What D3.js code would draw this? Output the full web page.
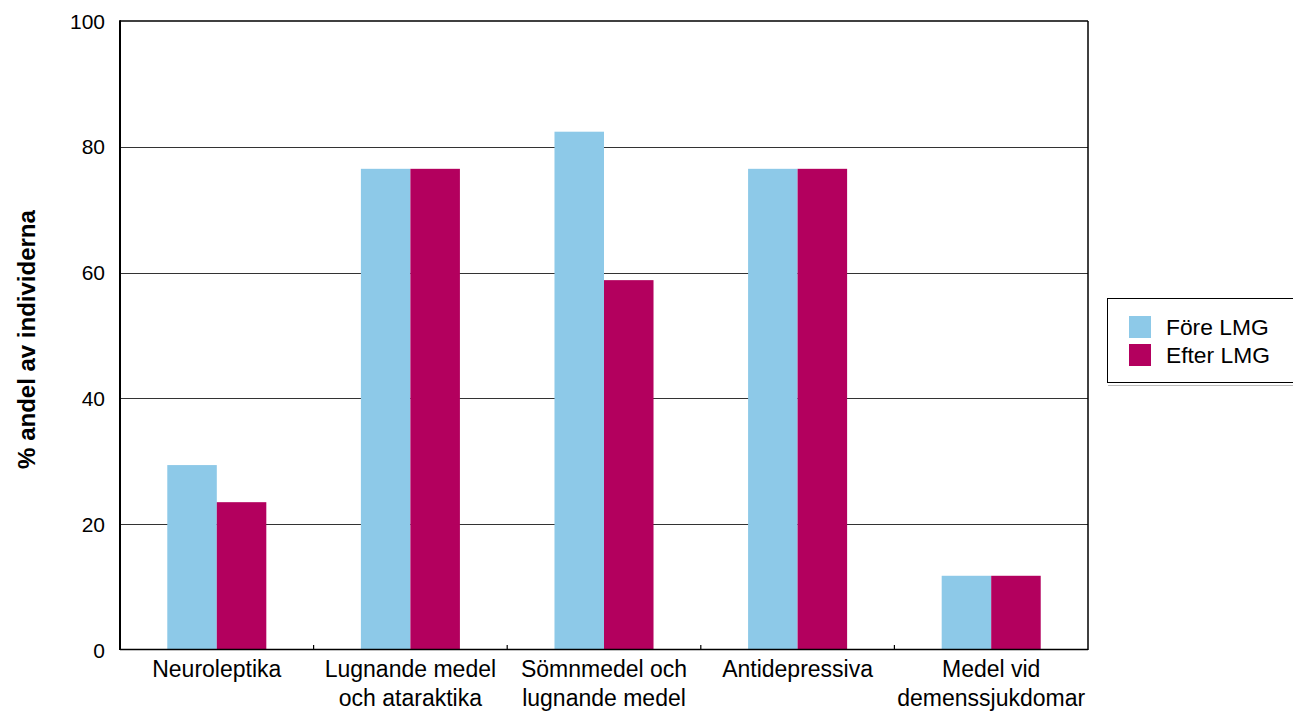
<!DOCTYPE html>
<html><head><meta charset="utf-8">
<script src="https://cdn.jsdelivr.net/npm/d3@7"></script>
<style>body{margin:0;background:#fff}svg{display:block}text{font-family:Arial,"Liberation Sans",sans-serif;fill:#000}</style>
</head><body><svg id="c" width="1293" height="712"></svg>
<script>
const categories = [["Neuroleptika"],["Lugnande medel","och ataraktika"],["Sömnmedel och","lugnande medel"],["Antidepressiva"],["Medel vid","demenssjukdomar"]];
const seriesNames = ["Före LMG","Efter LMG"];
const foreValues = [29.4, 76.5, 82.4, 76.5, 11.8];
const efterValues = [23.5, 76.5, 58.8, 76.5, 11.8];
const yTicks = [0,20,40,60,80,100];
const colors = ["#8dc9e8","#b3005e"];
const yTitle = "% andel av individerna";

const svg = d3.select("#c");
const L=120,R=1088,T=21,B=650;
const x = d3.scaleBand().domain(d3.range(categories.length)).range([L,R]).padding(0);
const xi = d3.scaleBand().domain([0,1]).range([0,x.bandwidth()]).paddingInner(0).paddingOuter(0.955);
const y = d3.scaleLinear().domain([0,100]).range([B,T]);

// gridlines
svg.append("g").selectAll("line").data(yTicks.filter(d=>d>0&&d<100)).join("line")
  .attr("x1",L).attr("x2",R).attr("y1",d=>Math.round(y(d))+0.5).attr("y2",d=>Math.round(y(d))+0.5)
  .attr("stroke","#333").attr("stroke-width",1.2);

// bars
const data = categories.map((c,i)=>[foreValues[i],efterValues[i]]);
const g = svg.append("g").selectAll("g").data(data).join("g").attr("transform",(d,i)=>`translate(${x(i)},0)`);
g.selectAll("rect").data(d=>d).join("rect")
  .attr("x",(d,j)=>xi(j)).attr("width",xi.bandwidth())
  .attr("y",d=>y(d)).attr("height",d=>B-y(d)).attr("fill",(d,j)=>colors[j]);

// frame
svg.append("line").attr("x1",L).attr("x2",R).attr("y1",T).attr("y2",T).attr("stroke","#000").attr("stroke-width",1.5);
svg.append("line").attr("x1",R).attr("x2",R).attr("y1",T).attr("y2",B).attr("stroke","#000").attr("stroke-width",1.5);
svg.append("line").attr("x1",L).attr("x2",L).attr("y1",T-0.75).attr("y2",B).attr("stroke","#000").attr("stroke-width",2);
svg.append("line").attr("x1",L).attr("x2",R).attr("y1",B-0.5).attr("y2",B-0.5).attr("stroke","#000").attr("stroke-width",1.5);
// x ticks at boundaries
svg.append("g").selectAll("line").data(d3.range(1,categories.length)).join("line")
  .attr("x1",i=>x(i)).attr("x2",i=>x(i)).attr("y1",B-5).attr("y2",B).attr("stroke","#000").attr("stroke-width",1.2);

// y tick labels
svg.append("g").selectAll("text").data(yTicks).join("text")
  .attr("x",105).attr("y",d=>y(d)).attr("dy","0.36em").attr("text-anchor","end")
  .style("font-size","21px").text(d=>d);

// x labels
const xl = svg.append("g").selectAll("text").data(categories).join("text")
  .attr("x",(d,i)=>x(i)+x.bandwidth()/2).attr("y",677).attr("text-anchor","middle").style("font-size","23px");
xl.selectAll("tspan").data(d=>d).join("tspan").attr("x",function(){return this.parentNode.getAttribute("x");})
  .attr("dy",(d,k)=>k?29:0).text(d=>d);

// y title
svg.append("text").attr("transform",`translate(35,${(T+B)/2+4}) rotate(-90)`).attr("text-anchor","middle")
  .style("font-size","24px").style("font-weight","bold").text(yTitle);

// legend
const lg = svg.append("g");
lg.append("rect").attr("x",1107.5).attr("y",298.5).attr("width",200).attr("height",84).attr("fill","#fff").attr("stroke","#000").attr("stroke-width",1);
lg.append("line").attr("x1",1108).attr("x2",1293).attr("y1",385.5).attr("y2",385.5).attr("stroke","#bbb");
seriesNames.forEach((s,j)=>{
  lg.append("rect").attr("x",1129).attr("y",316+j*28).attr("width",22).attr("height",22).attr("fill",colors[j]);
  lg.append("text").attr("x",1166).attr("y",327+j*28).attr("dy","0.36em").style("font-size","22.8px").text(s);
});
</script></body></html>
